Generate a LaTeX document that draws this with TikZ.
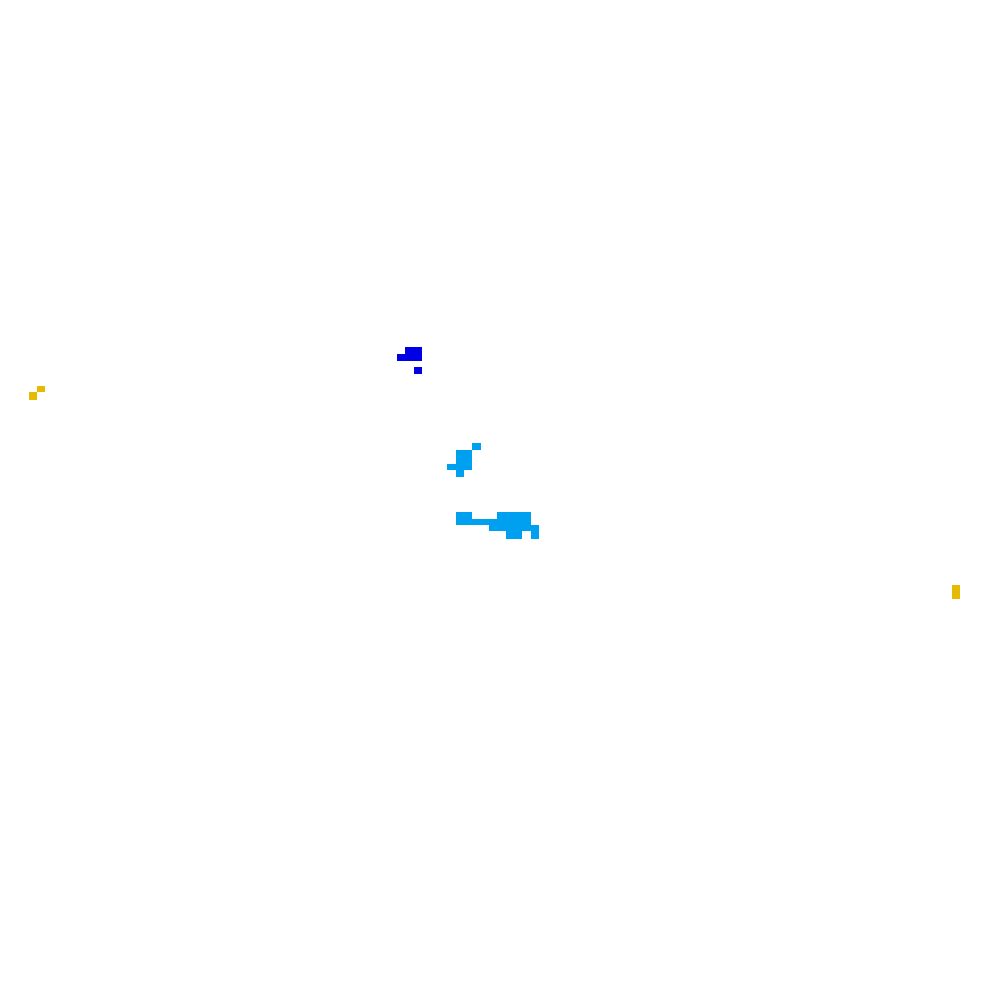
\documentclass[tikz,border=0pt]{standalone}
\definecolor{dkblue}{RGB}{0,0,228}
\definecolor{ltblue}{RGB}{0,160,240}
\definecolor{ylw}{RGB}{230,186,0}
\begin{document}
\begin{tikzpicture}[x=0.01cm,y=-0.01cm]
\useasboundingbox[fill=white] (0,0) rectangle (1000,1000);
% dark blue
\fill[dkblue] (405,347) rectangle (422,361);
\fill[dkblue] (397,354) rectangle (405,361);
\fill[dkblue] (414,367) rectangle (422,374);
% yellow left
\fill[ylw] (37,386) rectangle (45,392);
\fill[ylw] (29,392) rectangle (37,400);
% yellow right
\fill[ylw] (952,585) rectangle (960,599);
% light blue upper
\fill[ltblue] (472,443) rectangle (481,450);
\fill[ltblue] (456,450) rectangle (472,470);
\fill[ltblue] (447,464) rectangle (456,470);
\fill[ltblue] (456,470) rectangle (464,477);
% light blue lower
\fill[ltblue] (456,512) rectangle (472,525);
\fill[ltblue] (472,519) rectangle (497,525);
\fill[ltblue] (497,512) rectangle (531,531);
\fill[ltblue] (489,525) rectangle (539,531);
\fill[ltblue] (531,525) rectangle (539,539);
\fill[ltblue] (506,531) rectangle (522,539);
\end{tikzpicture}
\end{document}
